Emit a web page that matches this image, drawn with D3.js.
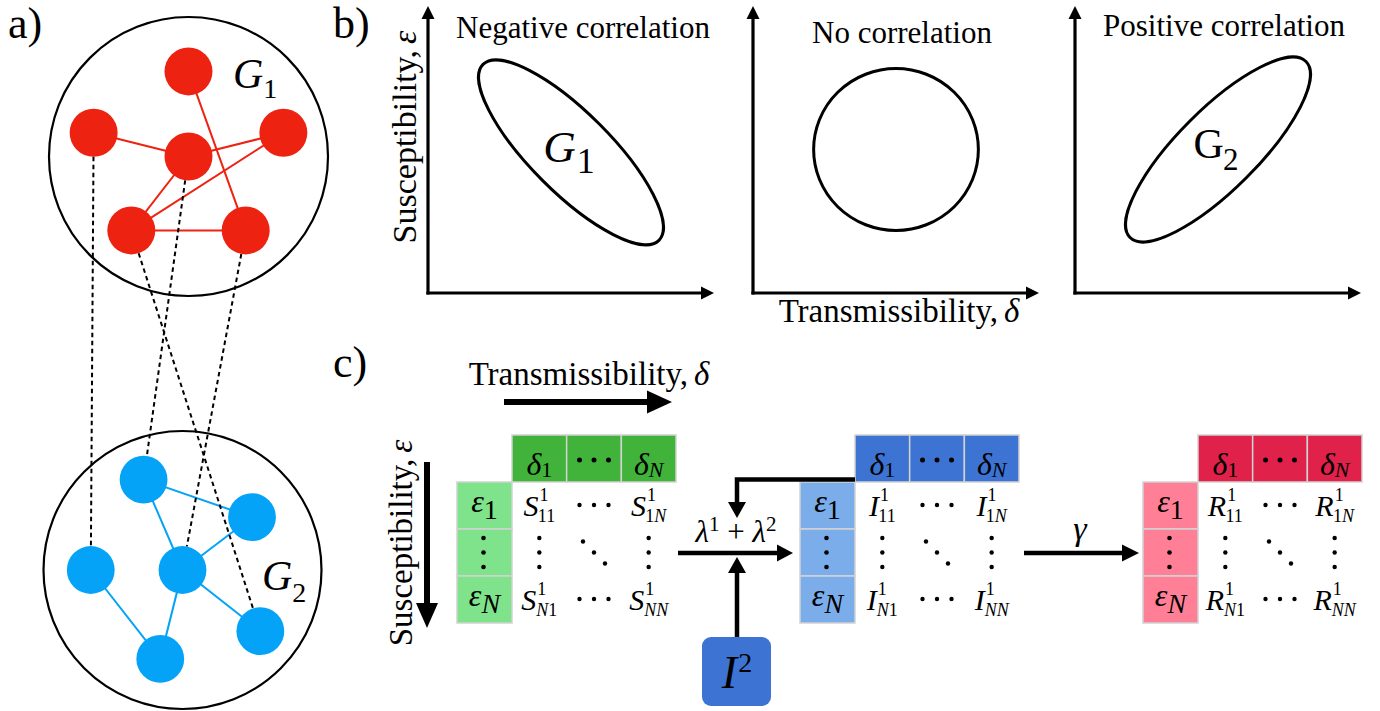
<!DOCTYPE html>
<html><head><meta charset="utf-8">
<script src="https://cdn.jsdelivr.net/npm/d3@7"></script>
</head><body style="margin:0">
<svg id="chart" width="1380" height="711"></svg>
<script>
// ===================== DATA =====================
const panelLabels = ["a)", "b)", "c)"];

// Panel a: nodes of the two layers, in unit-disc coordinates of each layer
const g1Nodes = [
  {id: "top",   x:  0.00, y: -0.61},
  {id: "left",  x: -0.68, y: -0.17},
  {id: "mid",   x:  0.00, y:  0.00},
  {id: "right", x:  0.68, y: -0.17},
  {id: "bl",    x: -0.41, y:  0.53},
  {id: "br",    x:  0.41, y:  0.53}
];
const g1Edges = [["left","mid"],["mid","right"],["top","br"],["mid","bl"],["bl","right"],["bl","br"]];
const g2Nodes = [
  {id: "A", x: -0.28, y: -0.65},
  {id: "B", x:  0.50, y: -0.38},
  {id: "C", x: -0.66, y:  0.00},
  {id: "D", x:  0.00, y:  0.00},
  {id: "E", x:  0.56, y:  0.44},
  {id: "F", x: -0.16, y:  0.64}
];
const g2Edges = [["A","B"],["A","D"],["D","B"],["C","F"],["D","F"],["D","E"]];
const interLayerLinks = [["left","C"],["mid","A"],["bl","E"],["br","D"]];
const layerNames = [{base: "G", sub: "1"}, {base: "G", sub: "2"}];

// Panel b: correlation between transmissibility and susceptibility
const correlationTitles = ["Negative correlation", "No correlation", "Positive correlation"];
// centre (cx, cy), semi-axes (major, minor) in axis units, orientation in degrees
const correlationShapes = [
  {cx: 0.50, cy: 0.49, major: 0.435, minor: 0.140, angle:  45},
  {cx: 0.50, cy: 0.50, major: 0.288, minor: 0.282, angle:   0},
  {cx: 0.50, cy: 0.50, major: 0.435, minor: 0.140, angle: -45}
];
const shapeLabels = [{base: "G", sub: "1", italic: true}, null, {base: "G", sub: "2", italic: false}];
const axisTitleX = ["Transmissibility,", "δ"];
const axisTitleY = ["Susceptibility,", "ε"];

// Panel c: the three state matrices
const matrixStates = ["S", "I", "R"];
const matrixLayer = "1";
const columnLabels = [{sym: "δ", idx: "1"}, null, {sym: "δ", idx: "N"}];
const rowLabels    = [{sym: "ε", idx: "1"}, null, {sym: "ε", idx: "N"}];
const cellIndex = [["11", null, "1N"], [null, null, null], ["N1", null, "NN"]];
const infectionRate = [["λ", "1"], ["λ", "2"]];
const recoveryRate = "γ";
const externalInfected = ["I", "2"];

// ===================== STYLE / LAYOUT =====================
const FONT = "Liberation Serif";
const svg = d3.select("#chart");
const C = {
  red: "#ee2211", blue: "#04a3f7",
  mats: [
    {head: "#41b33b", light: "#7ee38a"},
    {head: "#3d74d3", light: "#7badeb"},
    {head: "#e0214a", light: "#ff8096"}
  ],
  cellStroke: "#d2d2d2"
};
function newText(parent) { return parent.append("text").style("font-family", FONT); }
function addText(parent, str, opts) {
  const t = newText(parent).attr("x", opts.x || 0).attr("y", opts.y || 0).attr("font-size", opts.size);
  if (opts.anchor) t.attr("text-anchor", opts.anchor);
  if (opts.italic) t.attr("font-style", "italic");
  t.text(str);
  return t;
}
function scriptPieces(t, str) {
  for (const ch of str) {
    t.append("tspan").attr("font-style", /[A-Za-z]/.test(ch) ? "italic" : "normal").text(ch);
  }
}
// base symbol with stacked superscript / subscript, one text element
// (digit advance in the serif face is 0.5 em)
function scripted(parent, o) {
  const t = newText(parent).attr("x", o.x).attr("y", o.y)
    .attr("text-anchor", o.anchor === "middle" ? "middle" : "start");
  t.append("tspan").attr("font-size", o.size)
    .attr("font-style", o.italic ? "italic" : "normal").text(o.base);
  let dyAcc = 0;
  if (o.sup != null) {
    const s = t.append("tspan").attr("dx", (o.gap || 0) + (o.supShift || 0)).attr("dy", o.supDy).attr("font-size", o.supSize);
    scriptPieces(s, o.sup);
    dyAcc = o.supDy;
  }
  if (o.sub != null) {
    const back = o.sup != null ? -(o.sup.length * 0.5 * o.supSize + (o.supShift || 0)) : (o.gap || 0);
    const s = t.append("tspan").attr("dx", back).attr("dy", o.subDy - dyAcc).attr("font-size", o.subSize);
    scriptPieces(s, o.sub);
  }
  return t;
}
function arrow(parent, pts, w, hl, hw) {
  const n = pts.length;
  const [x1, y1] = pts[n - 2], [x2, y2] = pts[n - 1];
  const a = Math.atan2(y2 - y1, x2 - x1);
  const ca = Math.cos(a), sa = Math.sin(a);
  const bx = x2 - hl * ca, by = y2 - hl * sa;
  const linePts = pts.slice(0, n - 1).concat([[bx + ca, by + sa]]);
  parent.append("path").attr("d", d3.line()(linePts)).attr("fill", "none")
    .attr("stroke", "#000").attr("stroke-width", w).attr("stroke-linejoin", "miter");
  const px = -sa, py = ca;
  parent.append("path")
    .attr("d", `M${x2},${y2}L${bx + px * hw},${by + py * hw}L${bx - px * hw},${by - py * hw}Z`)
    .attr("fill", "#000");
}
function axisTitle(parent, parts, size, transform, x, y) {
  const t = newText(parent).attr("font-size", size).attr("text-anchor", "middle");
  if (transform) t.attr("transform", transform); else t.attr("x", x).attr("y", y);
  t.append("tspan").text(parts[0]);
  t.append("tspan").attr("dx", size * 0.18).attr("font-style", "italic").text(parts[1]);
  return t;
}

// ---------- panel labels ----------
const labelPos = [[8, 38], [333, 38], [333, 377]];
panelLabels.forEach((l, i) => addText(svg, l, {x: labelPos[i][0], y: labelPos[i][1], size: 44}));

// ===================== PANEL a =====================
const layerGeom = [
  {cx: 188.5, cy: 156.5, r: 139.5, color: C.red,  nodes: g1Nodes, edges: g1Edges, lab: [233, 88, 98]},
  {cx: 182.5, cy: 570,   r: 139,   color: C.blue, nodes: g2Nodes, edges: g2Edges, lab: [262, 590, 602]}
];
const nodeR = 0.172;
const pa = svg.append("g");
const pos = {};
layerGeom.forEach((L, li) => {
  const x = d3.scaleLinear().domain([-1, 1]).range([L.cx - L.r, L.cx + L.r]);
  const y = d3.scaleLinear().domain([-1, 1]).range([L.cy - L.r, L.cy + L.r]);
  L.x = x; L.y = y;
  L.nodes.forEach(n => pos[n.id] = [x(n.x), y(n.y)]);
  pa.append("circle").attr("cx", x(0)).attr("cy", y(0)).attr("r", x(1) - x(0))
    .attr("fill", "none").attr("stroke", "#000").attr("stroke-width", 2.2);
  pa.append("g").selectAll("line").data(L.edges).join("line")
    .attr("x1", d => pos[d[0]][0]).attr("y1", d => pos[d[0]][1])
    .attr("x2", d => pos[d[1]][0]).attr("y2", d => pos[d[1]][1])
    .attr("stroke", L.color).attr("stroke-width", 2);
  pa.append("g").selectAll("circle").data(L.nodes).join("circle")
    .attr("cx", d => x(d.x)).attr("cy", d => y(d.y)).attr("r", x(nodeR) - x(0))
    .attr("fill", L.color);
  scripted(pa, {x: L.lab[0], y: L.lab[1], base: layerNames[li].base, italic: true, size: 42,
    sub: layerNames[li].sub, subSize: 28, subDy: L.lab[2] - L.lab[1], gap: 0});
});
const rPx = layerGeom[0].x(nodeR) - layerGeom[0].x(0);
pa.append("g").selectAll("line").data(interLayerLinks).join("line")
  .each(function (d) {
    const [ax, ay] = pos[d[0]], [bx, by] = pos[d[1]];
    const len = Math.hypot(bx - ax, by - ay), ux = (bx - ax) / len, uy = (by - ay) / len;
    d3.select(this).attr("x1", ax + ux * rPx).attr("y1", ay + uy * rPx)
      .attr("x2", bx - ux * rPx).attr("y2", by - uy * rPx);
  })
  .attr("stroke", "#000").attr("stroke-width", 2).attr("stroke-dasharray", "4.5,3.5");

// ===================== PANEL b =====================
const pb = svg.append("g");
const bOrigins = [428, 753, 1075];
const titlePos = [[583, 38], [902, 43], [1224, 36]];
const shapeLabelPos = [[569, 162, 11], null, [1216, 158, 12]];
correlationShapes.forEach((s, i) => {
  const ox = bOrigins[i];
  const x = d3.scaleLinear().domain([0, 1]).range([ox, ox + 286]);
  const y = d3.scaleLinear().domain([0, 1]).range([293, 6]);
  const ax = pb.append("g").attr("transform", `translate(0,${y(0)})`)
    .call(d3.axisBottom(x).tickValues([]).tickSizeOuter(0));
  ax.select(".domain").attr("stroke-width", 3.2).attr("d", `M${x(0) - 1.6},0H${x(1) - 12}`);
  const ay = pb.append("g").attr("transform", `translate(${x(0)},0)`)
    .call(d3.axisLeft(y).tickValues([]).tickSizeOuter(0));
  ay.select(".domain").attr("stroke-width", 3.2).attr("d", `M0,${y(0) + 1.6}V${y(1) + 12}`);
  pb.append("path").attr("d", `M${x(1)},${y(0)}l-13,-6.5v13z`).attr("fill", "#000");
  pb.append("path").attr("d", `M${x(0)},${y(1)}l-6.5,13h13z`).attr("fill", "#000");
  pb.append("ellipse")
    .attr("transform", `translate(${x(s.cx)},${y(s.cy)}) rotate(${s.angle})`)
    .attr("rx", x(s.major) - x(0)).attr("ry", s.angle === 0 ? y(0) - y(s.minor) : x(s.minor) - x(0))
    .attr("fill", "none").attr("stroke", "#000").attr("stroke-width", 3);
  addText(pb, correlationTitles[i], {x: titlePos[i][0], y: titlePos[i][1], size: 31, anchor: "middle"});
  const sl = shapeLabels[i];
  if (sl) {
    scripted(pb, {x: shapeLabelPos[i][0], y: shapeLabelPos[i][1], base: sl.base, italic: sl.italic,
      size: sl.italic ? 45 : 42, sub: sl.sub, subSize: sl.italic ? 36 : 31, subDy: shapeLabelPos[i][2],
      anchor: "middle", gap: sl.italic ? 1 : -1});
  }
});
axisTitle(pb, axisTitleX, 33, null, 899, 322);
axisTitle(pb, axisTitleY, 34, "translate(416,137) rotate(-90)");

// ===================== PANEL c =====================
const pc = svg.append("g");
axisTitle(pc, axisTitleX, 33, null, 589, 385);
arrow(pc, [[504, 402], [672, 402]], 6, 25, 11.5);
axisTitle(pc, axisTitleY, 33, "translate(412,543) rotate(-90)");
arrow(pc, [[427, 462], [427, 628]], 6, 25, 11);

const matOrigins = [457, 800, 1143];
const rowHeadW = 55;
function dotsH(g, cx, cy, r) { [-14.5, 0, 14.5].forEach(d => g.append("circle").attr("cx", cx + d).attr("cy", cy).attr("r", r)); }
function dotsV(g, cx, cy, r) { [-14.5, 0, 14.5].forEach(d => g.append("circle").attr("cx", cx).attr("cy", cy + d).attr("r", r)); }
function dotsD(g, cx, cy, r) { [-11, 0, 11].forEach(d => g.append("circle").attr("cx", cx + d).attr("cy", cy + d).attr("r", r)); }

matrixStates.forEach((state, m) => {
  const ox = matOrigins[m];
  const g = pc.append("g");
  const col = d3.scaleBand().domain([0, 1, 2]).range([ox + rowHeadW, ox + rowHeadW + 164]);
  const row = d3.scaleBand().domain([0, 1, 2]).range([482, 623]);
  const headY = [435, 482];
  g.selectAll("rect.h").data(columnLabels).join("rect").attr("class", "h")
    .attr("x", (d, i) => col(i)).attr("y", headY[0]).attr("width", col.bandwidth()).attr("height", headY[1] - headY[0])
    .attr("fill", C.mats[m].head).attr("stroke", C.cellStroke).attr("stroke-width", 1.5);
  g.selectAll("rect.r").data(rowLabels).join("rect").attr("class", "r")
    .attr("x", ox).attr("y", (d, i) => row(i)).attr("width", rowHeadW).attr("height", row.bandwidth())
    .attr("fill", C.mats[m].light).attr("stroke", C.cellStroke).attr("stroke-width", 1.5);
  const hc = (headY[0] + headY[1]) / 2;
  columnLabels.forEach((d, i) => {
    const cx = col(i) + col.bandwidth() / 2;
    if (d) scripted(g, {x: cx, y: hc + 16, base: d.sym, italic: true, size: 32, sub: d.idx, subSize: 22, subDy: 2, anchor: "middle"});
    else dotsH(g, cx, hc + 1.5, 2.5);
  });
  rowLabels.forEach((d, i) => {
    const cx = ox + rowHeadW / 2, cy = row(i) + row.bandwidth() / 2;
    if (d) scripted(g, {x: cx, y: cy + 6, base: d.sym, italic: true, size: 32, sub: d.idx, subSize: 28, subDy: 7, anchor: "middle"});
    else dotsV(g, cx - 1, cy, 2.3);
  });
  cellIndex.forEach((r, ri) => r.forEach((idx, ci) => {
    const cx = col(ci) + col.bandwidth() / 2, cy = row(ri) + row.bandwidth() / 2;
    if (idx) {
      scripted(g, {x: cx, y: cy + 10, base: state, italic: true, size: 30,
        sup: matrixLayer, supSize: 18, supDy: -14.5, supShift: 1, sub: idx, subSize: 18, subDy: 6, anchor: "middle"});
    } else if (ri === 1 && ci === 1) dotsD(g, cx, cy, 2.2);
    else if (ri === 1) dotsV(g, cx, cy, 2.2);
    else dotsH(g, cx, cy - 0.5, 2.2);
  }));
});

arrow(pc, [[678, 553], [793, 553]], 4.5, 16, 8.5);
arrow(pc, [[855, 479.5], [737, 479.5], [737, 518]], 4.5, 16, 9);
arrow(pc, [[737, 637], [737, 557]], 4.5, 16, 9);
arrow(pc, [[1024, 553], [1139, 553]], 4.5, 17, 8.5);

const lam = newText(pc).attr("x", 736).attr("y", 542).attr("font-size", 31).attr("text-anchor", "middle");
lam.append("tspan").attr("font-style", "italic").text(infectionRate[0][0]);
lam.append("tspan").attr("font-size", 21).attr("dy", -11).text(infectionRate[0][1]);
lam.append("tspan").attr("dy", 11).text(" + ");
lam.append("tspan").attr("font-style", "italic").text(infectionRate[1][0]);
lam.append("tspan").attr("font-size", 21).attr("dy", -11).text(infectionRate[1][1]);
addText(pc, recoveryRate, {x: 1080, y: 540, size: 34, italic: true, anchor: "middle"});

pc.append("rect").attr("x", 702).attr("y", 637).attr("width", 69).attr("height", 69).attr("rx", 9)
  .attr("fill", C.mats[1].head);
scripted(pc, {x: 737, y: 688, base: externalInfected[0], italic: true, size: 46,
  sup: externalInfected[1], supSize: 28, supDy: -16, anchor: "middle", gap: 1});
</script>
</body></html>
